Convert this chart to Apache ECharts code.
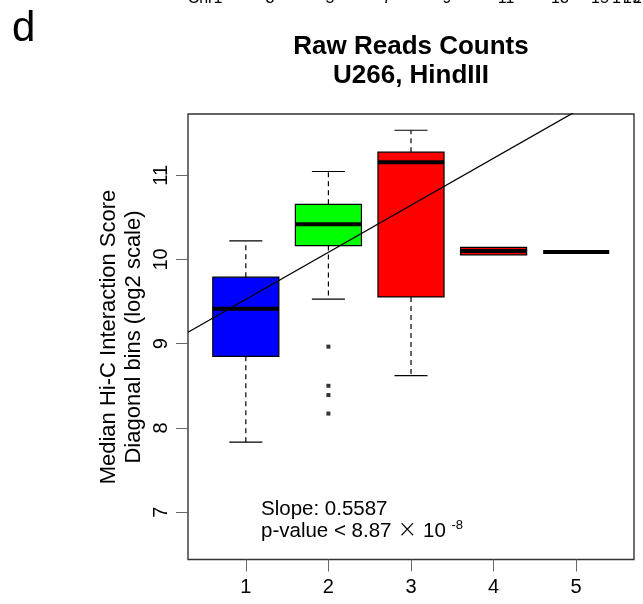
<!DOCTYPE html>
<html><head><meta charset="utf-8">
<script src="https://cdn.jsdelivr.net/npm/echarts@6/dist/echarts.min.js"></script>
<style>html,body{margin:0;padding:0;background:#fff}#c{width:643px;height:604px}</style>
</head><body><div id="c"></div>
<script>
// ---------- data ----------
const categories   = [1, 2, 3, 4, 5];
const xTickLabels  = ['1', '2', '3', '4', '5'];
const yTickValues  = [7, 8, 9, 10, 11];
const yTickLabels  = ['7', '8', '9', '10', '11'];
const whiskerLow   = [7.83, 9.53, 8.62, 10.055, 10.09];
const quartile1    = [8.85, 10.165, 9.555, 10.055, 10.09];
const medians      = [9.415, 10.42, 11.155, 10.10, 10.09];
const quartile3    = [9.79, 10.655, 11.275, 10.145, 10.09];
const whiskerHigh  = [10.22, 11.045, 11.535, 10.145, 10.09];
const boxColors    = ['#0000ff', '#00ff00', '#ff0000', '#ff0000', '#000000'];
const outlierX     = [2, 2, 2, 2];
const outlierY     = [8.965, 8.50, 8.39, 8.17];
const fitSlope     = 0.5587;
const fitIntercept = 8.968;
const titleLines   = ['Raw Reads Counts', 'U266, HindIII'];
const yAxisTitle   = ['Median Hi-C Interaction Score', 'Diagonal bins (log2 scale)'];
const statLines    = ['Slope: 0.5587', 'p-value < 8.87 ', '\u00D7', ' 10 ', '-8'];
const panelLetter  = 'd';
const chromLabels  = ['Chr1', '3', '5', '7', '9', '11', '13', '15', '17', '19', '21'];

// ---------- layout ----------
const FONT = '"Liberation Sans", Arial, Helvetica, sans-serif';
const X_MIN = 0.3, X_MAX = 5.7, Y_MIN = 6.437, Y_MAX = 11.728;
const chromPos = [205, 270, 330, 387, 447, 506, 560, 600, 621, 632, 642];

const chart = echarts.init(document.getElementById('c'), null, {renderer: 'canvas'});

const boxData = categories.map((c, i) => [c, whiskerLow[i], quartile1[i], medians[i], quartile3[i], whiskerHigh[i]]);
const outlierData = outlierX.map((x, i) => [x, outlierY[i]]);
const fitData = [[X_MIN, fitIntercept + fitSlope * X_MIN], [X_MAX, fitIntercept + fitSlope * X_MAX]];

function renderBox(params, api) {
  const x = api.value(0);
  const lo = api.value(1), q1 = api.value(2), md = api.value(3), q3 = api.value(4), hi = api.value(5);
  const cx = api.coord([x, md])[0];
  const yLo = api.coord([x, lo])[1], yQ1 = api.coord([x, q1])[1], yMd = api.coord([x, md])[1];
  const yQ3 = api.coord([x, q3])[1], yHi = api.coord([x, hi])[1];
  const halfW = api.size([0.4, 0])[0];
  const capHalf = api.size([0.2, 0])[0];
  const color = boxColors[params.dataIndex];
  const ch = [];
  const wStyle = {stroke: '#000', lineWidth: 1.2, lineDash: [5, 4]};
  const cStyle = {stroke: '#000', lineWidth: 1.2};
  if (hi > q3) {
    ch.push({type: 'line', shape: {x1: cx, y1: yQ3, x2: cx, y2: yHi}, style: wStyle});
    ch.push({type: 'line', shape: {x1: cx - capHalf, y1: yHi, x2: cx + capHalf, y2: yHi}, style: cStyle});
  }
  if (lo < q1) {
    ch.push({type: 'line', shape: {x1: cx, y1: yQ1, x2: cx, y2: yLo}, style: wStyle});
    ch.push({type: 'line', shape: {x1: cx - capHalf, y1: yLo, x2: cx + capHalf, y2: yLo}, style: cStyle});
  }
  if (yQ1 - yQ3 > 0.5) {
    ch.push({type: 'rect', shape: {x: cx - halfW, y: yQ3, width: 2 * halfW, height: yQ1 - yQ3},
      style: {fill: color, stroke: '#000', lineWidth: 1.2}});
  }
  ch.push({type: 'line', shape: {x1: cx - halfW, y1: yMd, x2: cx + halfW, y2: yMd},
    style: {stroke: '#000', lineWidth: 4}});
  return {type: 'group', children: ch};
}

const graphics = [];
graphics.push({type: 'text', x: 12, y: 29, style: {text: panelLetter, font: '42px ' + FONT, fill: '#000', align: 'left', verticalAlign: 'middle'}});
titleLines.forEach((t, i) => graphics.push({type: 'text', x: 411, y: 47 + i * 29,
  style: {text: t, font: 'bold 26px ' + FONT, fill: '#000', align: 'center', verticalAlign: 'middle'}}));
graphics.push({type: 'text', x: 121, y: 337, rotation: Math.PI / 2,
  style: {text: yAxisTitle.join('\n'), font: '22px ' + FONT, lineHeight: 25, fill: '#000', align: 'center', verticalAlign: 'middle'}});
graphics.push({type: 'text', x: 261, y: 509, style: {text: statLines[0], font: '20.5px ' + FONT, fill: '#000', align: 'left', verticalAlign: 'middle'}});
graphics.push({type: 'text', x: 261, y: 531, style: {
  text: '{n|' + statLines[1] + '}{x|' + statLines[2] + '}{n|' + statLines[3] + '}{s|' + statLines[4] + '}',
  align: 'left', verticalAlign: 'middle',
  rich: {n: {fontSize: 20.5, fontFamily: FONT, fill: '#000', lineHeight: 24, verticalAlign: 'middle'},
         x: {fontSize: 24, fontFamily: '"DejaVu Sans", ' + FONT, fontWeight: 200, fill: '#000', lineHeight: 24, verticalAlign: 'middle'},
         s: {fontSize: 13, fontFamily: FONT, fill: '#000', verticalAlign: 'top', lineHeight: 16}}}});
chromLabels.forEach((t, i) => graphics.push({type: 'text', x: chromPos[i], y: -1,
  style: {text: t, font: '16px ' + FONT, fill: '#000', align: 'center', verticalAlign: 'middle'}}));

chart.setOption({
  animation: false,
  backgroundColor: '#fff',
  grid: {left: 188, right: 9, top: 114, bottom: 44.5, show: true, borderColor: '#333', borderWidth: 1.4, backgroundColor: 'transparent'},
  xAxis: {
    type: 'value', min: X_MIN, max: X_MAX,
    splitLine: {show: false}, axisLine: {show: false},
    axisTick: {show: true, length: 12, customValues: categories, lineStyle: {color: '#666', width: 1}},
    axisLabel: {customValues: categories, formatter: v => xTickLabels[categories.indexOf(v)],
      fontSize: 20, fontFamily: FONT, color: '#000', margin: 17.5}
  },
  yAxis: {
    type: 'value', min: Y_MIN, max: Y_MAX,
    splitLine: {show: false}, axisLine: {show: false},
    axisTick: {show: true, length: 12, customValues: yTickValues, lineStyle: {color: '#666', width: 1}},
    axisLabel: {customValues: yTickValues, formatter: v => yTickLabels[yTickValues.indexOf(v)],
      rotate: 90, fontSize: 20, fontFamily: FONT, color: '#000', margin: 16.5}
  },
  graphic: graphics,
  series: [
    {type: 'custom', renderItem: renderBox, data: boxData, encode: {x: 0, y: [1, 2, 3, 4, 5]}, z: 2, clip: true},
    {type: 'scatter', data: outlierData, symbol: 'rect', symbolSize: 4, itemStyle: {color: '#000'}, z: 3},
    {type: 'line', data: fitData, showSymbol: false, symbol: 'none', clip: true,
      lineStyle: {color: '#000', width: 1.3}, z: 4}
  ]
});
</script></body></html>
